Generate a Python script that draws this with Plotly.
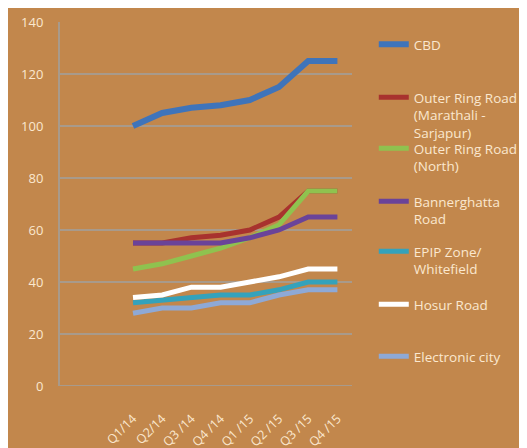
import plotly.graph_objects as go

quarters = ["Q1/14", "Q2/14", "Q3 /14", "Q4 /14", "Q1 /15", "Q2 /15", "Q3 /15", "Q4 /15"]

cbd = [100, 105, 107, 108, 110, 115, 125, 125]
orr_marathali = [55, 55, 57, 58, 60, 65, 75, 75]
orr_north = [45, 47, 50, 53, 57, 62, 75, 75]
bannerghatta = [55, 55, 55, 55, 57, 60, 65, 65]
epip = [32, 33, 34, 35, 35, 37, 40, 40]
hosur = [34, 35, 38, 38, 40, 42, 45, 45]
electronic_city = [28, 30, 30, 32, 32, 35, 37, 37]

names = ["CBD", "Outer Ring Road<br>(Marathali -<br>Sarjapur)", "Outer Ring Road<br>(North)",
         "Bannerghatta<br>Road", "EPIP Zone/<br>Whitefield", "Hosur Road", "Electronic city"]
series = [cbd, orr_marathali, orr_north, bannerghatta, epip, hosur, electronic_city]
colors = ["#3f74ba", "#a8322e", "#8fc24f", "#6a4399", "#34a2bb", "#ffffff", "#8ea9d6"]
widths = [6, 5, 5, 5, 5, 5, 5]

# page y of each legend entry in the original (Excel-style fixed slots)
legend_rows = [43, 96, 147, 200, 250, 303, 355]

x = list(range(len(quarters)))
txt = "#fbe8cf"
grid = "#a89a8b"

fig = go.Figure()
layout_legends = {}
for i, (name, vals, col, w) in enumerate(zip(names, series, colors, widths)):
    key = "legend" if i == 0 else "legend%d" % (i + 1)
    fig.add_trace(go.Scatter(x=x, y=vals, mode="lines", name=name,
                             line=dict(color=col, width=w), legend=key))
    layout_legends[key] = dict(
        x=1.0746, xanchor="left",
        y=(386 - (legend_rows[i] - 14)) / 364, yanchor="top",
        valign="top", bgcolor="rgba(0,0,0,0)",
        font=dict(family="Open Sans", size=13.5, color=txt))

fig.update_layout(
    width=527, height=448,
    paper_bgcolor="#c2874c", plot_bgcolor="#c2874c",
    margin=dict(l=52, r=180, t=14, b=70),
    font=dict(family="Open Sans", color=txt, size=13),
    showlegend=True,
    **layout_legends,
)
fig.update_xaxes(range=[-2.5, 7.5], tickvals=x, ticktext=quarters, tickangle=-45,
                 showgrid=False, zeroline=False, showline=False, automargin=False,
                 ticklabelstandoff=22, tickfont=dict(size=12.5))
fig.update_yaxes(range=[0, 140], dtick=20, gridcolor=grid, gridwidth=2,
                 zeroline=False, showline=True, linecolor=grid, linewidth=2,
                 ticklabelstandoff=12, automargin=False, tickfont=dict(size=13))
fig.add_hline(y=0, line=dict(color=grid, width=2))

fig.write_html("out.html")
